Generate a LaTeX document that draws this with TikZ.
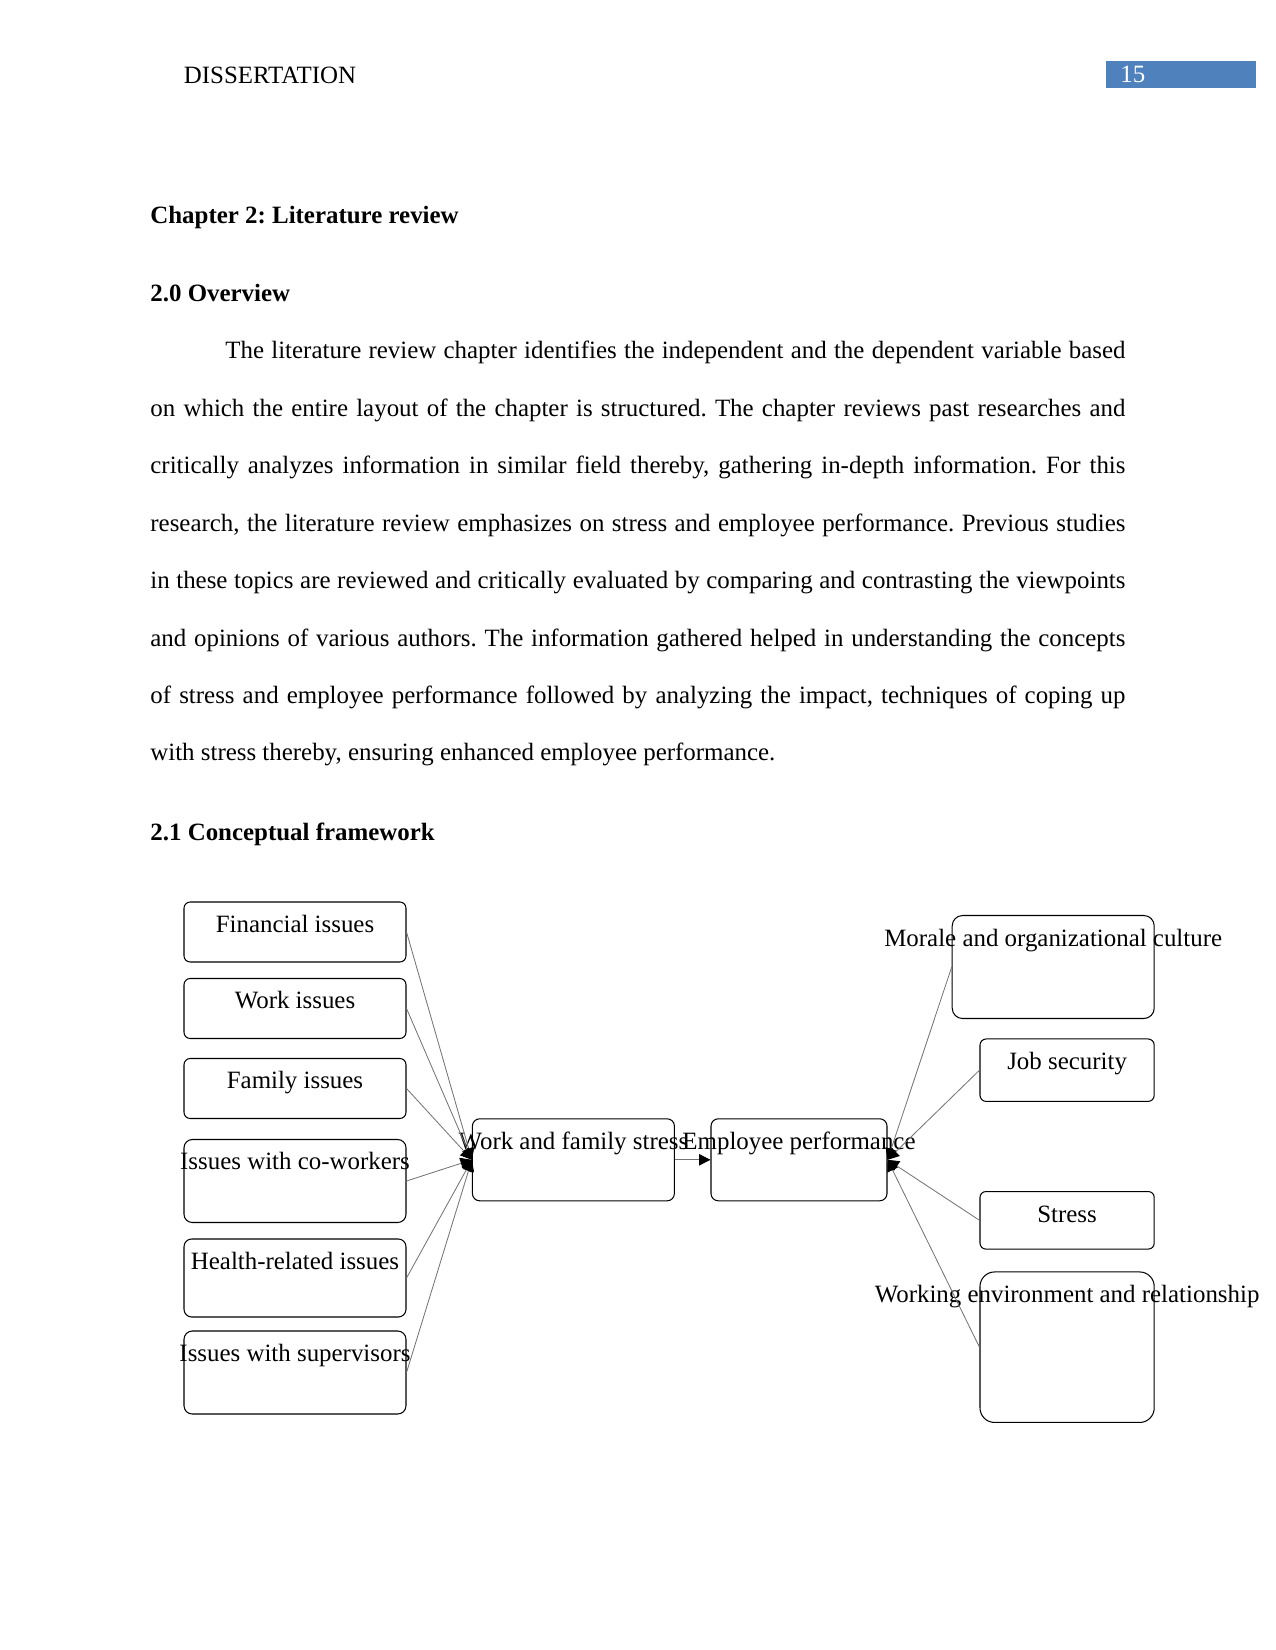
\documentclass[tikz,border=0pt]{standalone}
\usepackage{fontspec}
\setmainfont{Liberation Serif}
\usetikzlibrary{arrows.meta, calc, positioning}

\newcommand{\pxu}{0.4818pt}
\definecolor{hdrblue}{RGB}{79,129,189}
\frenchspacing

\begin{document}
\begin{tikzpicture}[
  x=0.4818pt, y=-0.4818pt,
  font=\fontsize{12}{14}\selectfont,
  txt/.style={inner sep=0pt, anchor=base west},
  head/.style={txt, font=\fontsize{12}{14}\selectfont\bfseries},
  box/.style={draw, line width=0.5pt, rounded corners=3pt, inner sep=0pt,
              minimum width=222*\pxu, minimum height=60*\pxu},
  rbox/.style={box, minimum width=174.2*\pxu},
  lbl/.style={inner sep=0pt, anchor=base},
  arr/.style={-{Triangle[length=5.5pt, width=5.5pt, color=black, fill=black]},
              draw=black!55, line width=0.4pt},
]
\useasboundingbox (0,0) rectangle (1275,1650);

% ============ PAGE HEADER ============
\node[txt] (runhead) at (183.5,83.5) {DISSERTATION};
\fill[hdrblue] (1106,61) rectangle (1255.5,88.3);
\node[txt, text=white] (pgnum) at (1120,83) {15};

% ============ HEADINGS AND BODY ============
\node[head] (chap) at (150,224) {Chapter 2: Literature review};
\node[head] (sec20) at (150,301.2) {2.0 Overview};

\node[txt] (l1) at (225,359)
  {\makebox[6in][s]{The literature review chapter identifies the independent and the dependent variable based}};
\node[txt] (l2) at (150,416.4)
  {\makebox[6.5in][s]{on which the entire layout of the chapter is structured. The chapter reviews past researches and}};
\node[txt] (l3) at (150,473.8)
  {\makebox[6.5in][s]{critically analyzes information in similar field thereby, gathering in-depth information. For this}};
\node[txt] (l4) at (150,531.2)
  {\makebox[6.5in][s]{research, the literature review emphasizes on stress and employee performance. Previous studies}};
\node[txt] (l5) at (150,588.6)
  {\makebox[6.5in][s]{in these topics are reviewed and critically evaluated by comparing and contrasting the viewpoints}};
\node[txt] (l6) at (150,646)
  {\makebox[6.5in][s]{and opinions of various authors. The information gathered helped in understanding the concepts}};
\node[txt] (l7) at (150,703.4)
  {\makebox[6.5in][s]{of stress and employee performance followed by analyzing the impact, techniques of coping up}};
\node[txt] (l8) at (150,760.8)
  {with stress thereby, ensuring enhanced employee performance.};

\node[head] (sec21) at (150,840.8) {2.1 Conceptual framework};

% ============ FRAMEWORK: CAUSES ============
\node[box] (fin)    at (295,932)    {};
\node[box] (work)   at (295,1008.5) {};
\node[box] (fam)    at (295,1088.5) {};
\node[box, minimum height=83*\pxu, rounded corners=4pt] (cowk)   at (295,1181) {};
\node[box, minimum height=78*\pxu, rounded corners=3.7pt] (health) at (295,1278) {};
\node[box, minimum height=83*\pxu, rounded corners=4pt] (sup)    at (295,1372.5) {};

\node[lbl] (fin-t)    at ($(fin.north)+(0,31)$)    {Financial issues};
\node[lbl] (work-t)   at ($(work.north)+(0,31)$)   {Work issues};
\node[lbl] (fam-t)    at ($(fam.north)+(0,31)$)    {Family issues};
\node[lbl] (cowk-t)   at ($(cowk.north)+(0,31)$)   {Issues with co-workers};
\node[lbl] (health-t) at ($(health.north)+(0,31)$) {Health-related issues};
\node[lbl] (sup-t)    at ($(sup.north)+(0,31)$)    {Issues with supervisors};

% ============ FRAMEWORK: CENTRE ============
\node[box, minimum width=202*\pxu, minimum height=82*\pxu, rounded corners=3.5pt] (wfs) at (573.4,1159.8) {};
\node[box, minimum width=176*\pxu, minimum height=82*\pxu, rounded corners=3.5pt] (ep)  at (799,1159.8) {};
\node[lbl] (wfs-t) at ($(wfs.north)+(0,31.5)$) {Work and family stress};
\node[lbl] (ep-t)  at ($(ep.north)+(0,31.5)$)  {Employee performance};

% ============ FRAMEWORK: OUTCOMES ============
\node[box, minimum width=202*\pxu, minimum height=103*\pxu, rounded corners=5pt] (morale) at (1053.2,967) {};
\node[rbox, minimum height=62.5*\pxu] (job)    at (1067.1,1070.2) {};
\node[rbox, minimum height=57.5*\pxu, rounded corners=2.8pt] (stress) at (1067.1,1220.3) {};
\node[rbox, minimum height=150.5*\pxu, rounded corners=7pt] (wenv)   at (1067.1,1347.2) {};

\node[lbl] (morale-t) at ($(morale.north)+(0,32)$) {Morale and organizational culture};
\node[lbl] (job-t)    at ($(job.north)+(0,31)$)    {Job security};
\node[lbl] (stress-t) at ($(stress.north)+(0,31)$) {Stress};
\node[lbl] (wenv-t)   at ($(wenv.north)+(0,31)$)   {Working environment and relationship};

% ============ ARROWS ============
\draw[arr] (fin.east)    -- (wfs.west);
\draw[arr] (work.east)   -- (wfs.west);
\draw[arr] (fam.east)    -- (wfs.west);
\draw[arr] (cowk.east)   -- (wfs.west);
\draw[arr] (health.east) -- (wfs.west);
\draw[arr] (sup.east)    -- (wfs.west);

\draw[arr] (wfs.east) -- (ep.west);

\draw[arr] (morale.west) -- (ep.east);
\draw[arr] (job.west)    -- (ep.east);
\draw[arr] (stress.west) -- (ep.east);
\draw[arr] (wenv.west)   -- (ep.east);

\end{tikzpicture}
\end{document}
